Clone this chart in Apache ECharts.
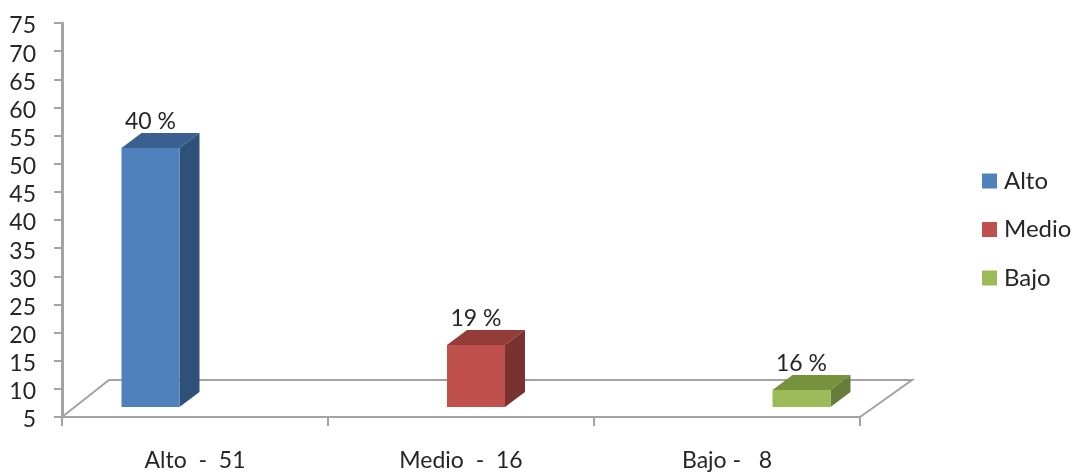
<!DOCTYPE html>
<html>
<head>
<meta charset="utf-8">
<style>html,body{margin:0;padding:0;background:#fff}#c{width:1077px;height:472px}</style>
<script src="https://cdn.jsdelivr.net/npm/echarts@6/dist/echarts.min.js"></script>
</head>
<body>
<div id="c"></div>
<script>
var categories = ['Alto  -  51', 'Medio  -  16', 'Bajo -   8'];
var seriesNames = ['Alto', 'Medio', 'Bajo'];
var values = [51, 16, 8];
var percents = ['40 %', '19 %', '16 %'];
var frontColors = ['#4F81BD', '#C0504D', '#9BBB59'];
var topColors = ['#3A6090', '#943C3A', '#76923C'];
var sideColors = ['#2F5078', '#7A3230', '#667C3A'];

var FONT = 'Lato';
var AXIS = '#A3A3A3';
var TEXT = '#262626';
var DX = 20, DY = 15, LIFT = 10, SLOT = 59.5, SHIFT = 15, BAR = 58;

function floorItem(params, api) {
  var g = params.coordSys;
  var x0 = g.x, x1 = g.x + g.width, y0 = g.y + g.height, y1 = y0 - 37;
  return {
    type: 'polyline',
    silent: true,
    shape: { points: [[x0, y0], [x0 + 47, y1], [x1 + 52, y1], [x1, y0]] },
    style: { fill: null, stroke: AXIS, lineWidth: 2 }
  };
}

function barItem(i) {
  return function (params, api) {
    var idx = api.value(0), v = api.value(1);
    var c = api.coord([idx, v]);
    var b = api.coord([idx, 5]);
    var cx = c[0] + SHIFT + (i - 1) * SLOT;
    var l = cx - BAR / 2, r = cx + BAR / 2;
    var t = c[1] - LIFT, bt = b[1] - LIFT;
    return {
      type: 'group',
      children: [
        { type: 'polygon', shape: { points: [[l, t], [r, t], [r + DX, t - DY], [l + DX, t - DY]] },
          style: { fill: topColors[i], stroke: null } },
        { type: 'polygon', shape: { points: [[r, t], [r + DX, t - DY], [r + DX, bt - DY], [r, bt]] },
          style: { fill: sideColors[i], stroke: null } },
        { type: 'rect', shape: { x: l, y: t, width: BAR, height: bt - t },
          style: { fill: frontColors[i], stroke: null } },
        { type: 'text', x: cx, y: t - DY - 12,
          style: { text: percents[i], font: '23px ' + FONT, fill: TEXT, align: 'center', verticalAlign: 'middle' } }
      ]
    };
  };
}

var series = [{
  type: 'custom', name: 'floor', silent: true, clip: false, z: 1,
  renderItem: floorItem, data: [[0, 5]], encode: { x: 0, y: 1 }
}];
seriesNames.forEach(function (name, i) {
  series.push({
    type: 'custom', name: name, clip: false, z: 3,
    itemStyle: { color: frontColors[i] },
    renderItem: barItem(i),
    data: [[i, values[i]]],
    encode: { x: 0, y: 1 }
  });
});

var chart = echarts.init(document.getElementById('c'), null, { renderer: 'canvas' });
chart.setOption({
  animation: false,
  backgroundColor: '#fff',
  textStyle: { fontFamily: FONT },
  grid: { left: 62, right: 217, top: 23, bottom: 53, containLabel: false },
  legend: {
    data: seriesNames, orient: 'vertical', left: 977, top: 164,
    itemWidth: 15, itemHeight: 15, itemGap: 24.5, icon: 'rect',
    textStyle: { fontFamily: FONT, fontSize: 24, color: TEXT, padding: [0, 0, 0, 2] }
  },
  xAxis: {
    type: 'category', data: categories, boundaryGap: true,
    axisLine: { lineStyle: { color: AXIS, width: 2 } },
    axisTick: { show: true, length: 9, alignWithLabel: false, lineStyle: { color: AXIS, width: 2 } },
    axisLabel: { fontFamily: FONT, fontSize: 23, color: TEXT, margin: 32, interval: 0 },
    splitLine: { show: false }
  },
  yAxis: {
    type: 'value', min: 5, max: 75, interval: 5,
    axisLine: { show: true, lineStyle: { color: AXIS, width: 3 } },
    axisTick: { show: true, length: 8, lineStyle: { color: AXIS, width: 2 } },
    axisLabel: { formatter: '{v|{value}}', margin: 26,
      rich: { v: { fontFamily: FONT, fontSize: 23, color: TEXT, padding: [6, 0, 0, 0] } } },
    splitLine: { show: false }
  },
  series: series
});
</script>
</body>
</html>
